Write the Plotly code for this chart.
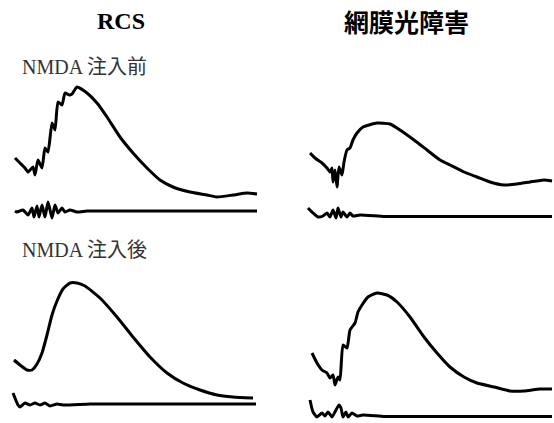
import plotly.graph_objects as go

# ---- data (time in sample units, amplitude in arbitrary units) ----
# RCS, before NMDA
rcs_pre_t = [5, 10, 15, 18, 23, 25, 28, 32, 35, 38, 42, 45, 48, 52, 55, 59, 62, 67, 77, 87, 97, 110, 123, 137, 150, 163, 180, 197, 207, 223, 237, 247]
rcs_pre_erg = [67, 62, 57, 53, 58, 50, 65, 57, 77, 73, 102, 95, 123, 120, 132, 130, 131, 138, 132, 122, 108, 88, 72, 57, 45, 38, 33, 30, 28, 30, 32, 31]
rcs_pre_op_t = [5, 7, 13, 18, 22, 24, 27, 29, 32, 35, 38, 42, 45, 48, 52, 55, 60, 67, 77, 100, 120, 140, 160, 180, 200, 220, 247]
rcs_pre_op = [14, 13, 15, 10, 17, 8, 19, 8, 20, 8, 23, 7, 20, 12, 17, 13, 15, 13, 14, 14, 14, 14, 14, 14, 14, 14, 14]

# Retinal light damage, before NMDA
rld_pre_t = [5, 10, 17, 22, 25, 27, 28, 30, 32, 34, 37, 39, 42, 45, 48, 52, 58, 72, 85, 95, 109, 122, 135, 145, 159, 172, 185, 199, 212, 225, 239, 247]
rld_pre_erg = [72, 67, 62, 57, 53, 57, 43, 55, 38, 58, 50, 63, 75, 77, 85, 92, 98, 102, 101, 95, 85, 75, 65, 60, 53, 48, 43, 40, 41, 43, 45, 44]
rld_pre_op_t = [3, 8, 13, 18, 22, 25, 28, 31, 33, 36, 38, 42, 45, 48, 55, 80, 120, 160, 200, 247]
rld_pre_op = [17, 12, 8, 9, 12, 8, 15, 7, 17, 8, 13, 8, 12, 9, 10, 8.5, 8.5, 8.5, 8.5, 8.5]

# RCS, after NMDA
rcs_post_t = [4, 10, 17, 22, 27, 32, 37, 42, 47, 53, 60, 67, 75, 90, 107, 123, 140, 157, 173, 190, 207, 223, 243]
rcs_post_erg = [60, 55, 50, 50, 56, 67, 85, 105, 119, 131, 137, 137, 134, 122, 103, 83, 63, 47, 37, 30, 25, 23, 22]
rcs_post_op_t = [3, 8, 10, 15, 20, 25, 30, 35, 40, 47, 53, 80, 120, 160, 200, 246]
rcs_post_op = [27, 15, 13, 17, 15, 17, 15, 17, 14, 16, 15, 16, 16, 16, 16, 16]

# Retinal light damage, after NMDA
rld_post_t = [7, 12, 17, 22, 25, 28, 30, 33, 35, 38, 42, 45, 50, 53, 57, 63, 72, 82, 92, 105, 119, 132, 145, 159, 172, 189, 205, 219, 235, 247]
rld_post_erg = [67, 57, 50, 47, 42, 45, 35, 43, 40, 75, 72, 90, 97, 108, 115, 123, 127, 125, 118, 103, 83, 67, 53, 43, 37, 33, 29, 29, 31, 31]
rld_post_op_t = [5, 8, 12, 17, 20, 23, 27, 31, 34, 36, 38, 41, 43, 47, 52, 58, 80, 120, 160, 200, 247]
rld_post_op = [20, 8, 3, 7, 4, 8, 3, 10, 15, 12, 3, 8, 3, 7, 4, 5, 3.5, 3.5, 3.5, 3.5, 3.5]

column_titles = ["RCS", "網膜光障害"]
row_labels = ["NMDA 注入前", "NMDA 注入後"]

# ---- layout ----
W, H = 554, 423
fig = go.Figure()

def dom_x(a, b):
    return [a / W, b / W]

def dom_y(top, bottom):
    return [1 - bottom / H, 1 - top / H]

panels = [
    (rcs_pre_t, rcs_pre_erg, rcs_pre_op_t, rcs_pre_op, dom_x(10, 259), dom_y(75, 225)),
    (rld_pre_t, rld_pre_erg, rld_pre_op_t, rld_pre_op, dom_x(305, 554), dom_y(75, 225)),
    (rcs_post_t, rcs_post_erg, rcs_post_op_t, rcs_post_op, dom_x(10, 259), dom_y(270, 420)),
    (rld_post_t, rld_post_erg, rld_post_op_t, rld_post_op, dom_x(305, 554), dom_y(270, 420)),
]

line = dict(color="black", width=3, shape="spline", smoothing=0.5)
for i, (t, erg, ot, op, dx, dy) in enumerate(panels, start=1):
    xa = "x" if i == 1 else f"x{i}"
    ya = "y" if i == 1 else f"y{i}"
    fig.add_trace(go.Scatter(x=t, y=erg, mode="lines", line=line, xaxis=xa, yaxis=ya, showlegend=False, hoverinfo="skip"))
    fig.add_trace(go.Scatter(x=ot, y=op, mode="lines", line=line, xaxis=xa, yaxis=ya, showlegend=False, hoverinfo="skip"))
    key = "" if i == 1 else str(i)
    fig.layout["xaxis" + key] = dict(domain=dx, range=[0, 249], visible=False, anchor="y" + key, fixedrange=True)
    fig.layout["yaxis" + key] = dict(domain=dy, range=[0, 150], visible=False, anchor="x" + key, fixedrange=True)

annos = [
    dict(text="<b>" + column_titles[0] + "</b>", x=121 / W, y=1 - 21 / H,
         font=dict(family="Liberation Serif", size=24, color="black"), xanchor="center", yanchor="middle"),
    dict(text="<b>" + column_titles[1] + "</b>", x=406 / W, y=1 - 21 / H,
         font=dict(family="Noto Sans CJK JP", size=25, color="black"), xanchor="center", yanchor="middle"),
    dict(text=row_labels[0], x=20 / W, y=1 - 67 / H,
         font=dict(family="Liberation Serif, Noto Sans CJK JP", size=20, color="#333"), xanchor="left", yanchor="middle"),
    dict(text=row_labels[1], x=20 / W, y=1 - 250 / H,
         font=dict(family="Liberation Serif, Noto Sans CJK JP", size=20, color="#333"), xanchor="left", yanchor="middle"),
]
for a in annos:
    a.update(xref="paper", yref="paper", showarrow=False)

fig.update_layout(width=W, height=H, margin=dict(l=0, r=0, t=0, b=0),
                  paper_bgcolor="white", plot_bgcolor="white", annotations=annos)

fig.write_html("out.html", config={"displayModeBar": False},
               post_script="document.body.style.margin='0';")
